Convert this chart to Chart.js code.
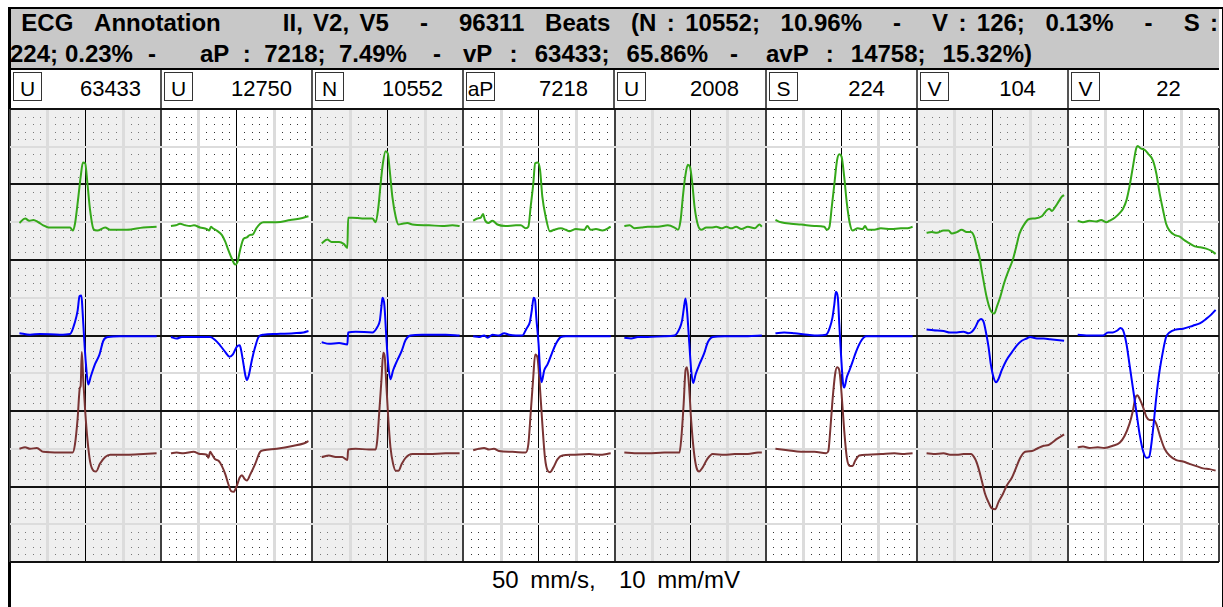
<!DOCTYPE html>
<html>
<head>
<meta charset="utf-8">
<script src="https://cdn.jsdelivr.net/npm/chart.js@4.4.0/dist/chart.umd.min.js"></script>
<style>
  body { margin: 0; background: #fff; width: 1223px; height: 607px; overflow: hidden; position: relative;
         font-family: "Liberation Sans", Arial, sans-serif; }
  .abs { position: absolute; }
  #frame { left: 8px; top: 7px; width: 1211px; height: 640px; border: solid #000; border-width: 2px 2px 0 3px; }
  #titlebar { left: 11px; top: 9px; width: 1208px; height: 59px; background: #c8c8c8; border-bottom: 2px solid #000; }
  .t { position: absolute; font-weight: bold; font-size: 24px; line-height: 24px; white-space: pre; color: #000; }
  .sep { position: absolute; top: 70px; width: 2px; height: 39px; background: #555; }
  .lbl { position: absolute; top: 72px; width: 27px; height: 27px; border: 1px solid #333; font-size: 21px;
         line-height: 31px; text-align: center; overflow: hidden; }
  .cnt { position: absolute; top: 75px; height: 28px; font-size: 22px; line-height: 28px; text-align: center; }
  #foot { left: 0; width: 1232px; top: 568px; text-align: center; font-size: 24px; line-height: 24px;
          white-space: pre; word-spacing: 5px; }
  #ecg { position: absolute; left: 9px; top: 108px; }
</style>
</head>
<body>
<div id="frame" class="abs"></div>
<div id="titlebar" class="abs"></div>
<div id="title"></div>
<div id="header"></div>
<canvas id="ecg" width="1212" height="455" style="width:1212px;height:455px"></canvas>
<div id="foot" class="abs">50 mm/s,  10 mm/mV</div>
<script>
// Cabecera: etiqueta y numero de latidos por columna
const beatLabels = ["U", "U", "N", "aP", "U", "S", "V", "V"];
const beatCounts = [63433, 12750, 10552, 7218, 2008, 224, 104, 22];

// Titulo: primera linea justificada, segunda por grupos [texto, x inicio, x fin]
const titleLine1 = " ECG  Annotation      II, V2, V5   -   96311  Beats  (N : 10552;  10.96%   -   V : 126;  0.13%   -   S :";
const titleLine2 = [["224; 0.23%", 10, 133], ["-", 148], ["aP : 7218; 7.49%", 200, 407], ["-", 433],
  ["vP : 63433; 65.86%", 463, 708], ["-", 730], ["avP : 14758; 15.32%)", 766, 1032]];

// Trazos [ms dentro de la columna, mV] -- II (verde), V2 (azul), V5 (marron)
const p1II = [[25,4.49],[40,4.55],[51,4.52],[62,4.53],[75,4.50],[88,4.46],[102,4.43],[132,4.43],[159,4.43],[166,4.39],[172,4.48],[181,4.84],[187,5.10],[193,5.29],[199,5.28],[205,5.01],[212,4.66],[221,4.41],[231,4.39],[252,4.43],[265,4.40],[309,4.40],[353,4.43],[388,4.44]];
const p1V2 = [[25,3.03],[53,3.01],[79,3.02],[132,3.01],[159,3.02],[172,3.18],[179,3.33],[184,3.52],[189,3.53],[192,3.33],[196,2.98],[201,2.62],[207,2.35],[214,2.46],[225,2.62],[237,2.75],[247,2.93],[260,2.98],[291,2.99],[353,2.99],[388,2.99]];
const p1V5 = [[25,1.50],[40,1.52],[53,1.50],[71,1.51],[88,1.46],[132,1.45],[166,1.45],[172,1.56],[179,1.90],[185,2.31],[187,2.33],[190,2.78],[194,2.40],[199,2.00],[205,1.62],[212,1.33],[221,1.21],[228,1.20],[238,1.30],[252,1.39],[265,1.42],[309,1.42],[353,1.43],[388,1.44]];

const p2II = [[26,4.45],[39,4.46],[50,4.48],[64,4.46],[77,4.45],[87,4.46],[103,4.43],[121,4.41],[127,4.39],[132,4.44],[137,4.42],[147,4.39],[161,4.33],[170,4.24],[178,4.13],[187,4.02],[196,3.94],[202,3.97],[209,4.13],[218,4.28],[227,4.30],[234,4.33],[243,4.34],[252,4.42],[262,4.48],[271,4.50],[306,4.50],[342,4.53],[368,4.55],[390,4.58]];
const p2V2 = [[26,2.98],[41,2.96],[55,2.98],[77,2.98],[130,2.98],[143,2.94],[156,2.87],[170,2.78],[181,2.72],[190,2.75],[200,2.85],[208,2.87],[212,2.80],[218,2.62],[223,2.47],[227,2.41],[232,2.47],[240,2.67],[249,2.85],[258,2.98],[271,3.01],[306,3.02],[351,3.03],[377,3.04],[390,3.06]];
const p2V5 = [[26,1.44],[41,1.45],[59,1.44],[86,1.46],[103,1.43],[121,1.42],[125,1.38],[130,1.46],[134,1.43],[143,1.36],[152,1.34],[161,1.27],[170,1.16],[178,1.03],[185,0.94],[192,0.93],[199,0.99],[208,1.12],[214,1.15],[221,1.10],[227,1.08],[236,1.16],[249,1.30],[262,1.46],[271,1.48],[306,1.50],[351,1.54],[377,1.57],[390,1.60]];

const p3II = [[25,4.22],[40,4.27],[51,4.24],[71,4.24],[84,4.21],[93,4.16],[95,4.56],[106,4.56],[132,4.55],[159,4.55],[168,4.50],[175,4.70],[181,5.01],[187,5.28],[194,5.44],[200,5.41],[205,5.19],[212,4.84],[221,4.57],[228,4.47],[238,4.48],[252,4.49],[265,4.47],[309,4.46],[344,4.45],[371,4.46],[390,4.45]];
const p3V2 = [[25,2.91],[44,2.89],[71,2.90],[93,2.88],[95,3.04],[115,3.05],[159,3.04],[172,3.11],[179,3.20],[183,3.38],[186,3.50],[191,3.40],[196,2.98],[201,2.62],[207,2.42],[214,2.54],[225,2.67],[237,2.80],[247,2.94],[260,3.00],[291,3.01],[353,3.01],[390,3.00]];
const p3V5 = [[25,1.39],[44,1.41],[62,1.39],[79,1.39],[93,1.35],[95,1.49],[115,1.50],[150,1.49],[168,1.49],[172,1.61],[177,1.96],[183,2.40],[188,2.77],[192,2.71],[196,2.36],[201,1.92],[207,1.52],[214,1.30],[221,1.21],[228,1.21],[237,1.30],[247,1.38],[265,1.43],[309,1.43],[353,1.44],[390,1.44]];

const p4II = [[26,4.52],[37,4.55],[46,4.56],[52,4.61],[57,4.53],[66,4.49],[77,4.52],[90,4.47],[112,4.45],[139,4.46],[152,4.46],[165,4.42],[172,4.44],[178,4.70],[185,5.01],[190,5.28],[197,5.29],[203,5.19],[209,4.84],[218,4.57],[229,4.38],[240,4.40],[258,4.42],[271,4.40],[280,4.38],[298,4.41],[320,4.40],[328,4.45],[337,4.40],[351,4.41],[368,4.39],[390,4.44]];
const p4V2 = [[26,2.99],[41,2.98],[55,3.00],[64,2.97],[77,3.01],[94,3.00],[108,3.03],[121,3.01],[139,3.00],[156,3.00],[167,3.09],[176,3.18],[181,3.33],[186,3.50],[190,3.46],[193,3.24],[199,2.89],[203,2.54],[207,2.38],[214,2.54],[223,2.62],[234,2.76],[245,2.89],[258,2.98],[271,2.99],[306,2.99],[351,2.99],[390,2.99]];
const p4V5 = [[26,1.48],[41,1.50],[55,1.51],[68,1.49],[81,1.50],[94,1.47],[130,1.46],[165,1.45],[172,1.56],[178,1.96],[185,2.45],[190,2.75],[196,2.71],[202,2.36],[209,1.83],[216,1.38],[223,1.21],[229,1.19],[238,1.25],[249,1.36],[262,1.41],[289,1.42],[333,1.43],[359,1.42],[390,1.44]];

const p5II = [[26,4.45],[40,4.46],[53,4.42],[71,4.43],[88,4.44],[115,4.44],[141,4.46],[159,4.43],[168,4.40],[175,4.53],[181,4.84],[187,5.10],[194,5.26],[200,5.23],[206,5.01],[212,4.70],[221,4.46],[230,4.40],[243,4.43],[256,4.43],[269,4.44],[283,4.42],[296,4.44],[309,4.42],[322,4.44],[336,4.41],[353,4.44],[371,4.42],[384,4.47],[390,4.44]];
const p5V2 = [[26,2.97],[44,2.96],[62,2.98],[88,2.98],[132,2.99],[159,3.00],[172,3.09],[179,3.20],[184,3.38],[188,3.49],[192,3.33],[198,2.89],[203,2.54],[208,2.37],[215,2.49],[225,2.62],[237,2.76],[247,2.91],[260,2.98],[291,2.99],[353,2.99],[390,3.00]];
const p5V5 = [[26,1.45],[53,1.44],[88,1.44],[132,1.45],[159,1.45],[172,1.45],[177,1.65],[183,2.09],[188,2.54],[192,2.58],[197,2.36],[203,1.87],[210,1.47],[217,1.25],[224,1.20],[233,1.25],[245,1.36],[260,1.43],[291,1.42],[318,1.43],[353,1.43],[380,1.45],[390,1.45]];

const p6II = [[26,4.53],[41,4.50],[67,4.48],[94,4.47],[129,4.45],[155,4.44],[162,4.40],[169,4.44],[175,4.70],[182,5.01],[189,5.32],[195,5.40],[201,5.37],[208,5.10],[215,4.75],[223,4.48],[230,4.39],[244,4.42],[257,4.41],[263,4.45],[270,4.40],[288,4.40],[305,4.42],[332,4.41],[358,4.42],[376,4.42],[389,4.44]];
const p6V2 = [[26,3.03],[49,3.04],[76,3.03],[111,3.01],[138,3.00],[160,3.01],[169,3.09],[177,3.24],[182,3.42],[186,3.58],[191,3.51],[195,3.15],[200,2.71],[205,2.36],[208,2.31],[215,2.45],[222,2.54],[230,2.65],[239,2.78],[253,2.93],[266,2.99],[306,2.99],[350,2.99],[389,2.99]];
const p6V5 = [[26,1.50],[58,1.48],[94,1.46],[129,1.46],[160,1.44],[166,1.47],[171,1.74],[177,2.14],[184,2.49],[189,2.58],[195,2.54],[201,2.23],[208,1.74],[215,1.38],[223,1.27],[230,1.27],[237,1.34],[248,1.41],[270,1.42],[306,1.43],[341,1.44],[367,1.43],[389,1.44]];

const p7II = [[26,4.36],[40,4.37],[53,4.36],[71,4.39],[84,4.39],[93,4.35],[106,4.37],[119,4.40],[132,4.37],[143,4.37],[152,4.31],[159,4.17],[166,4.04],[172,3.86],[178,3.69],[185,3.51],[194,3.35],[205,3.29],[212,3.38],[221,3.51],[231,3.69],[243,3.86],[254,4.00],[263,4.17],[272,4.35],[283,4.46],[296,4.54],[313,4.55],[331,4.58],[344,4.66],[351,4.68],[358,4.65],[366,4.70],[375,4.77],[384,4.84],[390,4.86]];
const p7V2 = [[26,3.08],[44,3.07],[71,3.06],[88,3.04],[106,3.04],[124,3.05],[137,3.03],[146,3.05],[155,3.11],[163,3.19],[170,3.22],[177,3.18],[184,3.02],[190,2.85],[196,2.62],[203,2.45],[210,2.38],[216,2.42],[225,2.54],[237,2.67],[252,2.78],[265,2.87],[278,2.93],[291,2.96],[300,2.98],[318,2.96],[336,2.96],[353,2.95],[371,2.94],[390,2.93]];
const p7V5 = [[26,1.44],[44,1.43],[71,1.44],[88,1.42],[106,1.42],[124,1.43],[143,1.43],[155,1.36],[163,1.25],[172,1.08],[181,0.90],[190,0.79],[199,0.71],[208,0.70],[216,0.79],[228,0.90],[238,1.01],[252,1.12],[263,1.25],[274,1.38],[287,1.46],[305,1.47],[318,1.50],[336,1.54],[349,1.55],[358,1.58],[371,1.63],[384,1.67],[390,1.69]];

const p8II = [[26,4.52],[40,4.50],[57,4.52],[75,4.51],[88,4.53],[102,4.50],[110,4.52],[124,4.56],[137,4.62],[146,4.68],[155,4.79],[163,4.97],[172,5.23],[181,5.48],[185,5.51],[192,5.48],[203,5.46],[212,5.41],[225,5.32],[234,5.15],[243,4.88],[252,4.66],[260,4.48],[269,4.39],[283,4.33],[296,4.31],[309,4.26],[322,4.22],[336,4.18],[349,4.17],[366,4.15],[380,4.12],[391,4.08]];
const p8V2 = [[26,3.01],[49,3.00],[75,3.00],[93,3.00],[106,3.04],[119,3.04],[132,3.07],[139,3.10],[146,3.07],[155,2.89],[163,2.62],[172,2.31],[181,2.00],[190,1.69],[199,1.47],[208,1.38],[215,1.39],[221,1.56],[227,1.83],[234,2.18],[243,2.54],[252,2.80],[260,2.98],[269,3.04],[287,3.08],[305,3.09],[331,3.13],[349,3.16],[366,3.22],[380,3.28],[391,3.34]];
const p8V5 = [[26,1.52],[40,1.53],[57,1.51],[79,1.52],[97,1.51],[119,1.54],[137,1.58],[150,1.67],[163,1.83],[172,2.00],[179,2.18],[184,2.21],[190,2.16],[199,2.05],[208,1.92],[216,1.88],[227,1.88],[234,1.83],[245,1.65],[256,1.50],[269,1.41],[287,1.35],[305,1.33],[322,1.30],[340,1.27],[358,1.24],[375,1.23],[391,1.21]];

const leadII = [p1II, p2II, p3II, p4II, p5II, p6II, p7II, p8II];
const leadV2 = [p1V2, p2V2, p3V2, p4V2, p5V2, p6V2, p7V2, p8V2];
const leadV5 = [p1V5, p2V5, p3V5, p4V5, p5V5, p6V5, p7V5, p8V5];

const PANEL_MS = 400;      // 20 mm a 50 mm/s
const GRID_LEFT = 10, PANEL_W = 151.1;

// ---- texto del titulo ----
const titleDiv = document.getElementById("title");
const mctx = document.createElement("canvas").getContext("2d");
mctx.font = 'bold 24px "Liberation Sans"';
const spaceW = mctx.measureText(" ").width;

function putWord(txt, x, top) {
  const s = document.createElement("div");
  s.className = "t";
  s.style.left = x.toFixed(1) + "px";
  s.style.top = top + "px";
  s.textContent = txt;
  titleDiv.appendChild(s);
}
// reparte el texto entre x0 y x1 ensanchando los espacios (justificado)
function placeWords(text, x0, x1, top) {
  const words = text.split(" ");
  const nSp = words.length - 1;
  const widths = words.map((w) => mctx.measureText(w).width);
  const natural = widths.reduce((a, b) => a + b, 0) + nSp * spaceW;
  const gap = (x1 != null && nSp > 0) ? spaceW + (x1 - x0 - natural) / nSp : spaceW;
  let x = x0;
  words.forEach((w, i) => {
    if (w) putWord(w, x, top);
    x += widths[i] + gap;
  });
}
placeWords(titleLine1, 11, 1218, 11);
titleLine2.forEach(([txt, a, b]) => placeWords(txt, a, b, 42));

// ---- fila de cabecera ----
const header = document.getElementById("header");
beatLabels.forEach((lab, k) => {
  const x0 = GRID_LEFT + k * PANEL_W;
  if (k > 0) {
    const sp = document.createElement("div");
    sp.className = "sep";
    sp.style.left = Math.round(x0 - 1) + "px";
    header.appendChild(sp);
  }
  const b = document.createElement("div");
  b.className = "lbl";
  b.style.left = Math.round(x0 + 3) + "px";
  b.textContent = lab;
  header.appendChild(b);
  const c = document.createElement("div");
  c.className = "cnt";
  c.style.left = Math.round(x0 + 50) + "px";
  c.style.width = Math.round(PANEL_W - 50) + "px";
  c.textContent = beatCounts[k];
  header.appendChild(c);
});

// ---- datasets ----
function toXY(trace, k) {
  return trace.map(([t, v]) => ({ x: k * PANEL_MS + t, y: v }));
}
const datasets = [];
const leads = [[leadII, "#35a81a"], [leadV2, "#0000ff"], [leadV5, "#7a3434"]];
leads.forEach(([lead, col]) => {
  lead.forEach((trace, k) => {
    datasets.push({
      data: toXY(trace, k),
      borderColor: col,
      borderWidth: 2,
      pointRadius: 0,
      cubicInterpolationMode: "monotone",
      fill: false,
    });
  });
});

// Sombreado de columnas alternas y puntos de la cuadricula de 1 mm
const paperPlugin = {
  id: "paper",
  beforeDraw(chart) {
    const { ctx, chartArea: a, scales: { x } } = chart;
    ctx.save();
    ctx.fillStyle = "#efefef";
    for (let k = 0; k < 8; k += 2) {
      const l = x.getPixelForValue(k * PANEL_MS);
      const r = x.getPixelForValue((k + 1) * PANEL_MS);
      ctx.fillRect(l, a.top, r - l, a.bottom - a.top);
    }
    ctx.restore();
  },
  beforeDatasetsDraw(chart) {
    const { ctx, scales: { x, y } } = chart;
    ctx.save();
    for (let i = 1; i < 160; i++) {
      if (i % 5 === 0) continue;
      const px = Math.round(x.getPixelForValue(i * 20));
      ctx.fillStyle = Math.floor(i / 20) % 2 === 0 ? "#777" : "#333";
      for (let j = 1; j < 60; j++) {
        if (j % 5 === 0) continue;
        const py = Math.round(y.getPixelForValue(j / 10));
        ctx.fillRect(px, py, 1, 1);
      }
    }
    ctx.restore();
  },
};

function xGridColor(c) {
  const v = Math.round(c.tick.value);
  if (v % 400 === 0) return "#404040";
  if (v % 200 === 0) return "#000";
  if (v % 100 === 0) return "#dcdcdc";
  return "rgba(0,0,0,0)";
}
function xGridWidth(c) {
  const v = Math.round(c.tick.value);
  if (v % 400 === 0) return 2;
  if (v % 200 === 0) return 1;
  if (v % 100 === 0) return 3;
  return 0;
}
function yGridColor(c) {
  const v = Math.round(c.tick.value * 10);
  if (v % 10 === 0) return "#111";
  if (v % 5 === 0) return "#dcdcdc";
  return "rgba(0,0,0,0)";
}
function yGridWidth(c) {
  const v = Math.round(c.tick.value * 10);
  if (v % 10 === 0) return 2;
  if (v % 5 === 0) return 2;
  return 0;
}

new Chart(document.getElementById("ecg").getContext("2d"), {
  type: "line",
  data: { datasets },
  options: {
    responsive: false,
    animation: false,
    events: [],
    layout: { padding: { left: 1, right: 2, top: 1, bottom: 1 } },
    plugins: { legend: { display: false }, tooltip: { enabled: false } },
    scales: {
      x: {
        type: "linear", min: 0, max: 8 * PANEL_MS,
        ticks: { display: false, stepSize: 20 },
        grid: { color: xGridColor, lineWidth: xGridWidth, drawTicks: false },
        border: { display: false },
      },
      y: {
        type: "linear", min: 0, max: 6,
        ticks: { display: false, stepSize: 0.1 },
        grid: { color: yGridColor, lineWidth: yGridWidth, drawTicks: false },
        border: { display: false },
      },
    },
  },
  plugins: [paperPlugin],
});
</script>
</body>
</html>
